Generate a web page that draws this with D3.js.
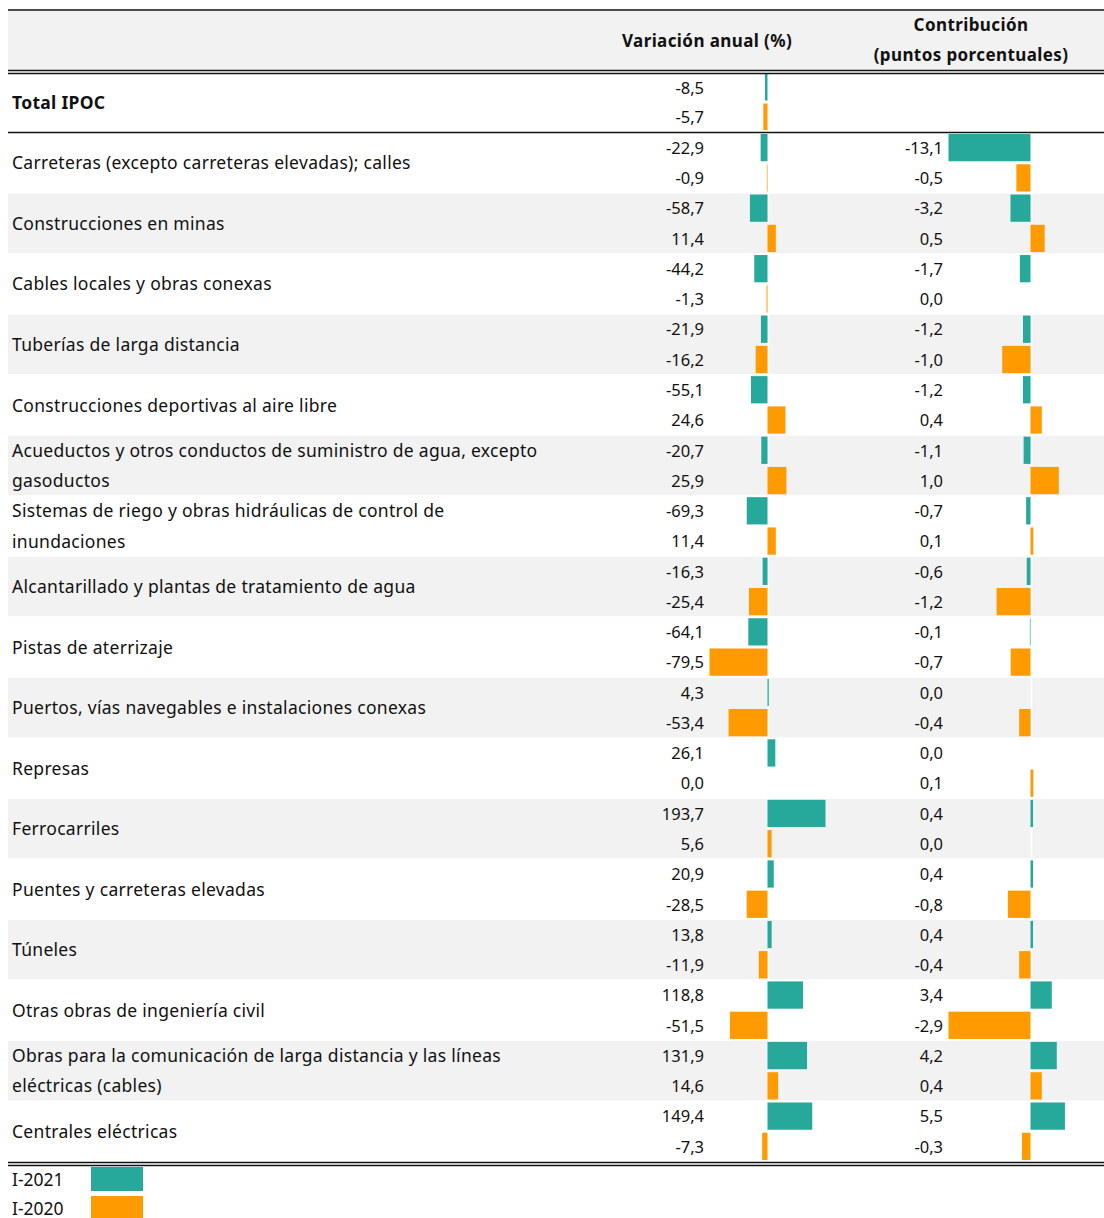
<!DOCTYPE html>
<html>
<head>
<meta charset="utf-8">
<script src="https://cdn.jsdelivr.net/npm/d3@7"></script>
<style>
  body { margin: 0; background: #fff; }
  svg { display: block; font-family: "Noto Sans", "Open Sans", sans-serif; }
</style>
</head>
<body>
<svg id="chart" width="1104" height="1218"></svg>
<script>
// row labels (first one is the total row)
const categories = [
  "Total IPOC",
  "Carreteras (excepto carreteras elevadas); calles",
  "Construcciones en minas",
  "Cables locales y obras conexas",
  "Tuberías de larga distancia",
  "Construcciones deportivas al aire libre",
  "Acueductos y otros conductos de suministro de agua, excepto|gasoductos",
  "Sistemas de riego y obras hidráulicas de control de|inundaciones",
  "Alcantarillado y plantas de tratamiento de agua",
  "Pistas de aterrizaje",
  "Puertos, vías navegables e instalaciones conexas",
  "Represas",
  "Ferrocarriles",
  "Puentes y carreteras elevadas",
  "Túneles",
  "Otras obras de ingeniería civil",
  "Obras para la comunicación de larga distancia y las líneas|eléctricas (cables)",
  "Centrales eléctricas"
];
const series = ["I-2021", "I-2020"];
const varI2021 = [-8.5, -22.9, -58.7, -44.2, -21.9, -55.1, -20.7, -69.3, -16.3, -64.1, 4.3, 26.1, 193.7, 20.9, 13.8, 118.8, 131.9, 149.4];
const varI2020 = [-5.7, -0.9, 11.4, -1.3, -16.2, 24.6, 25.9, 11.4, -25.4, -79.5, -53.4, 0.0, 5.6, -28.5, -11.9, -51.5, 14.6, -7.3];
const contribI2021 = [null, -13.1, -3.2, -1.7, -1.2, -1.2, -1.1, -0.7, -0.6, -0.1, 0.0, 0.0, 0.4, 0.4, 0.4, 3.4, 4.2, 5.5];
const contribI2020 = [null, -0.5, 0.5, 0.0, -1.0, 0.4, 1.0, 0.1, -1.2, -0.7, -0.4, 0.1, 0.0, -0.8, -0.4, -2.9, 0.4, -0.3];
const headers = ["Variación anual (%)", "Contribución|(puntos porcentuales)"];

const colors = { "I-2021": "#26a99b", "I-2020": "#ff9a00" };
const gray = "#f2f2f2";
const fmt = d3.formatLocale({ decimal: ",", thousands: ".", grouping: [3], currency: ["", ""], minus: "-" }).format(".1f");

const svg = d3.select("#chart");
const left = 8, right = 1104;
const fontSize = 17.5, numSize = 16.5, spacing = 0.3;

// vertical layout
const headTop = 11, headBottom = 70;
const totalTop = 73, totalBottom = 132;
const bodyTop = 133, bodyBottom = 1162;
const n = categories.length - 1;
const yGroup = d3.scaleBand().domain(d3.range(n)).range([bodyTop, bodyBottom]);
const sub = yGroup.bandwidth() / 2;
function rowTop(i) { return i === 0 ? totalTop : yGroup(i - 1); }
function rowH(i) { return i === 0 ? (totalBottom - totalTop) / 2 : sub; }

// horizontal layout
const varAxis = 767.5, varHalf = 58, varLabelX = 704;
const conAxis = 1030.5, conHalf = 82, conLabelX = 943;
function mkScale(arr, axis, half) {
  const m = d3.max(arr, d => d == null ? 0 : Math.abs(d));
  return d3.scaleLinear().domain([-m, m]).range([axis - half, axis + half]);
}
const xVar21 = mkScale(varI2021, varAxis, varHalf);
const xVar20 = mkScale(varI2020, varAxis, varHalf);
const xCon21 = mkScale(contribI2021, conAxis, conHalf);
const xCon20 = mkScale(contribI2020, conAxis, conHalf);

// header background + alternating bands
svg.append("rect").attr("x", left).attr("y", headTop).attr("width", right - left).attr("height", headBottom - headTop).attr("fill", gray);
svg.selectAll("rect.band").data(d3.range(n).filter(i => i % 2 === 1)).join("rect")
  .attr("class", "band")
  .attr("x", left).attr("y", i => yGroup(i))
  .attr("width", right - left).attr("height", yGroup.bandwidth() - 1)
  .attr("fill", gray);
// thin white separators at the bar axes
[varAxis, conAxis].forEach(x => {
  svg.append("line").attr("x1", x + 1).attr("x2", x + 1).attr("y1", bodyTop).attr("y2", bodyBottom)
    .attr("stroke", "#fff").attr("stroke-width", 1.5);
});

// header text
const hdr = svg.append("g").attr("font-weight", 700).attr("font-size", 17).attr("letter-spacing", 0.4)
  .attr("text-anchor", "middle").attr("fill", "#111");
hdr.append("text").attr("x", 707).attr("y", 41).attr("dy", "0.35em").text(headers[0]);
headers[1].split("|").forEach((t, k) => {
  hdr.append("text").attr("x", 971).attr("y", 25 + k * 30).attr("dy", "0.35em").text(t);
});

// category labels
categories.forEach((c, i) => {
  const lines = c.split("|");
  const top = rowTop(i), h = rowH(i);
  const g = svg.append("text").attr("x", 12).attr("font-size", fontSize).attr("letter-spacing", spacing)
    .attr("fill", "#111").attr("font-weight", i === 0 ? 700 : 400);
  if (lines.length === 1) {
    g.attr("y", top + h).attr("dy", "0.35em").text(c);
  } else {
    lines.forEach((t, k) => {
      g.append("tspan").attr("x", 12).attr("y", top + h * (k + 0.5)).attr("dy", "0.35em").text(t);
    });
  }
});

// value labels and bars
function drawSeries(arr, scale, labelX, color, subIdx) {
  arr.forEach((v, i) => {
    if (v == null) return;
    const top = rowTop(i) + subIdx * rowH(i);
    const h = rowH(i);
    svg.append("text").attr("x", labelX).attr("y", top + h / 2).attr("dy", "0.35em")
      .attr("text-anchor", "end").attr("font-size", numSize).attr("fill", "#111")
      .text(fmt(v));
    const x0 = scale(0), x1 = scale(v);
    svg.append("rect")
      .attr("x", Math.min(x0, x1)).attr("y", top + 1)
      .attr("width", Math.abs(x1 - x0)).attr("height", h - 3)
      .attr("fill", color);
  });
}
drawSeries(varI2021, xVar21, varLabelX, colors["I-2021"], 0);
drawSeries(varI2020, xVar20, varLabelX, colors["I-2020"], 1);
drawSeries(contribI2021, xCon21, conLabelX, colors["I-2021"], 0);
drawSeries(contribI2020, xCon20, conLabelX, colors["I-2020"], 1);

// rules
function hline(y, w) {
  svg.append("line").attr("x1", left).attr("x2", right).attr("y1", y).attr("y2", y)
    .attr("stroke", "#111").attr("stroke-width", w);
}
hline(10, 1.5);
hline(70.5, 1.3); hline(73.5, 1.3);
hline(132.5, 1.3);
hline(1162.5, 1.3); hline(1165.5, 1.3);

// legend
series.forEach((s, k) => {
  const cy = 1180 + k * 29;
  svg.append("text").attr("x", 12).attr("y", cy).attr("dy", "0.35em").attr("font-size", fontSize).attr("fill", "#111").text(s);
  svg.append("rect").attr("x", 91).attr("y", cy - 13).attr("width", 52).attr("height", 24).attr("fill", colors[s]);
});
</script>
</body>
</html>
